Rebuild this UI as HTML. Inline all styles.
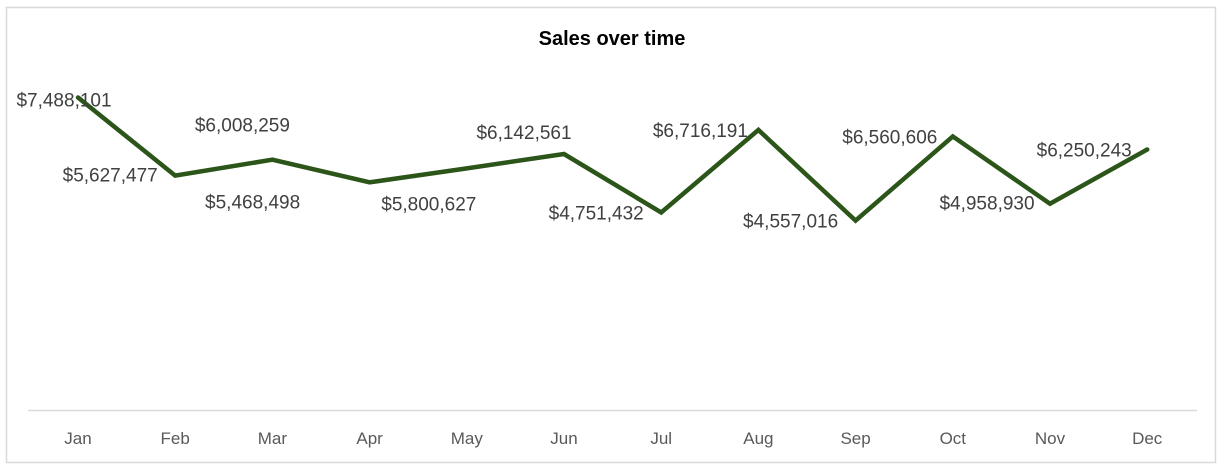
<!DOCTYPE html>
<html><head><meta charset="utf-8">
<style>
html,body{margin:0;padding:0;background:#fff;}
svg{display:block;}
text{font-family:"Liberation Sans",Arial,sans-serif;}
</style></head>
<body>
<svg id="chart" width="1225" height="473" viewBox="0 0 1225 473">
  <rect x="6.5" y="7.5" width="1209" height="455" fill="#fff" stroke="#d9d9d9" stroke-width="1.5"/>
  <text x="612" y="45" text-anchor="middle" font-size="20" font-weight="bold" fill="#000">Sales over time</text>
  <line x1="28" y1="410.5" x2="1197" y2="410.5" stroke="#d9d9d9" stroke-width="1.5"/>
  <g id="xticks"></g>
  <g id="series"></g>
  <g id="labels"></g>
</svg>
<script>
const months = ["Jan","Feb","Mar","Apr","May","Jun","Jul","Aug","Sep","Oct","Nov","Dec"];
const sales = [7488101,5627477,6008259,5468498,5800627,6142561,4751432,6716191,4557016,6560606,4958930,6250243];
const valueLabels = ["$7,488,101","$5,627,477","$6,008,259","$5,468,498","$5,800,627","$6,142,561","$4,751,432","$6,716,191","$4,557,016","$6,560,606","$4,958,930","$6,250,243"];
const yMax = 8000000;

const NS = "http://www.w3.org/2000/svg";
const x0 = 78, step = 97.2;
function xPos(i){ return x0 + i*step; }
function yPos(v){ return 412 - v/yMax*336; }
// label placement offsets (layout, not data)
const ldx = [-14,-65,-30,-117,-38,-40,-65,-58,-65,-63,-63,-63];
const ldy = [3,0,-34,20,36,-21,1,1,1,1,0,1];

const xt = document.getElementById('xticks');
months.forEach((m,i)=>{
  const t = document.createElementNS(NS,'text');
  t.setAttribute('x', xPos(i)); t.setAttribute('y', 444);
  t.setAttribute('text-anchor','middle'); t.setAttribute('font-size','17'); t.setAttribute('fill','#595959');
  t.textContent = m;
  
  
  xt.appendChild(t);
});

const pts = sales.map((v,i)=>xPos(i)+','+yPos(v)).join(' ');
const pl = document.createElementNS(NS,'polyline');
pl.setAttribute('points', pts);
pl.setAttribute('fill','none'); pl.setAttribute('stroke','#2c5519'); pl.setAttribute('stroke-width','4.5');
pl.setAttribute('stroke-linejoin','miter'); pl.setAttribute('stroke-linecap','round');


document.getElementById('series').appendChild(pl);

const lg = document.getElementById('labels');
sales.forEach((v,i)=>{
  const t = document.createElementNS(NS,'text');
  t.setAttribute('x', xPos(i)+ldx[i]); t.setAttribute('y', yPos(v)+ldy[i]+6);
  t.setAttribute('text-anchor','middle'); t.setAttribute('font-size','19'); t.setAttribute('fill','#404040');
  t.textContent = valueLabels[i];
  
  
  lg.appendChild(t);
});
</script>
</body></html>
